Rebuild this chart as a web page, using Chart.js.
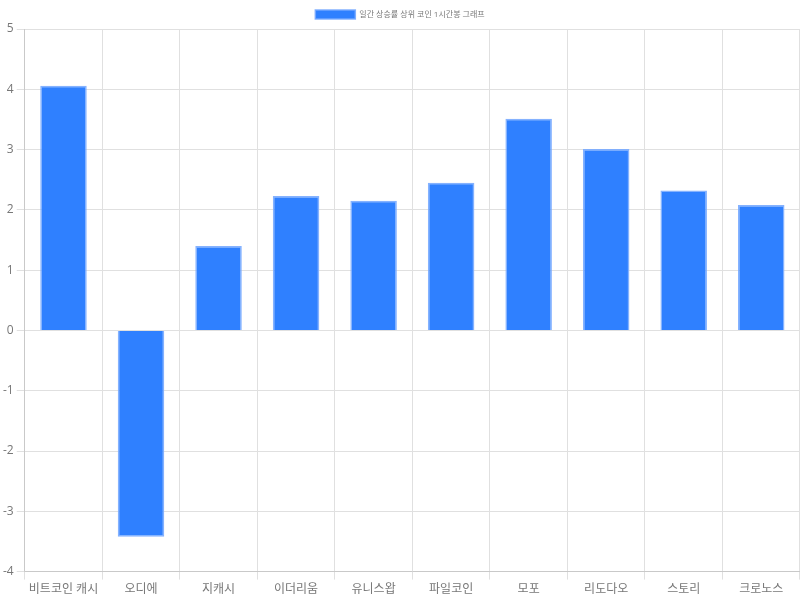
<!DOCTYPE html>
<html>
<head>
<meta charset="utf-8">
<script src="https://cdn.jsdelivr.net/npm/chart.js@4"></script>
<style>
  html, body { margin: 0; padding: 0; background: #fff; }
  #wrap { width: 800px; height: 600px; }
</style>
</head>
<body>
<div id="wrap"><canvas id="coinChart"></canvas></div>
<script>
const coinLabels = ['비트코인 캐시', '오디에', '지캐시', '이더리움', '유니스왑', '파일코인', '모포', '리도다오', '스토리', '크로노스']
const changeData = [4.06, -3.42, 1.40, 2.23, 2.15, 2.45, 3.51, 3.01, 2.32, 2.08]
const seriesName = '일간 상승률 상위 코인 1시간봉 그래프'

Chart.defaults.font.family = "'Open Sans', 'Noto Sans CJK KR', sans-serif"
Chart.defaults.color = '#777'

var coinChart = new Chart(
    document.getElementById('coinChart'),
    {
        type: 'bar',
        data: {
            labels: coinLabels,
            datasets: [{
                label: seriesName,
                data: changeData,
                backgroundColor: '#2f80ff',
                borderColor: 'rgba(120, 170, 255, 0.9)',
                borderWidth: 1.5,
                barPercentage: 0.75,
                categoryPercentage: 0.8
            }]
        },
        options: {
            responsive: true,
            maintainAspectRatio: false,
            animation: false,
            layout: { padding: 0 },
            scales: {
                y: {
                    min: -4,
                    max: 5,
                    ticks: { stepSize: 1, font: { size: 12 } },
                    grid: { color: '#e0e0e0' }
                },
                x: {
                    ticks: { font: { size: 12 } },
                    grid: { color: '#e0e0e0', offset: true }
                }
            },
            plugins: {
                legend: {
                    display: true,
                    labels: {
                        boxWidth: 40,
                        boxHeight: 9,
                        font: { size: 8 }
                    }
                },
                tooltip: { enabled: false }
            }
        }
    }
)
</script>
</body>
</html>
